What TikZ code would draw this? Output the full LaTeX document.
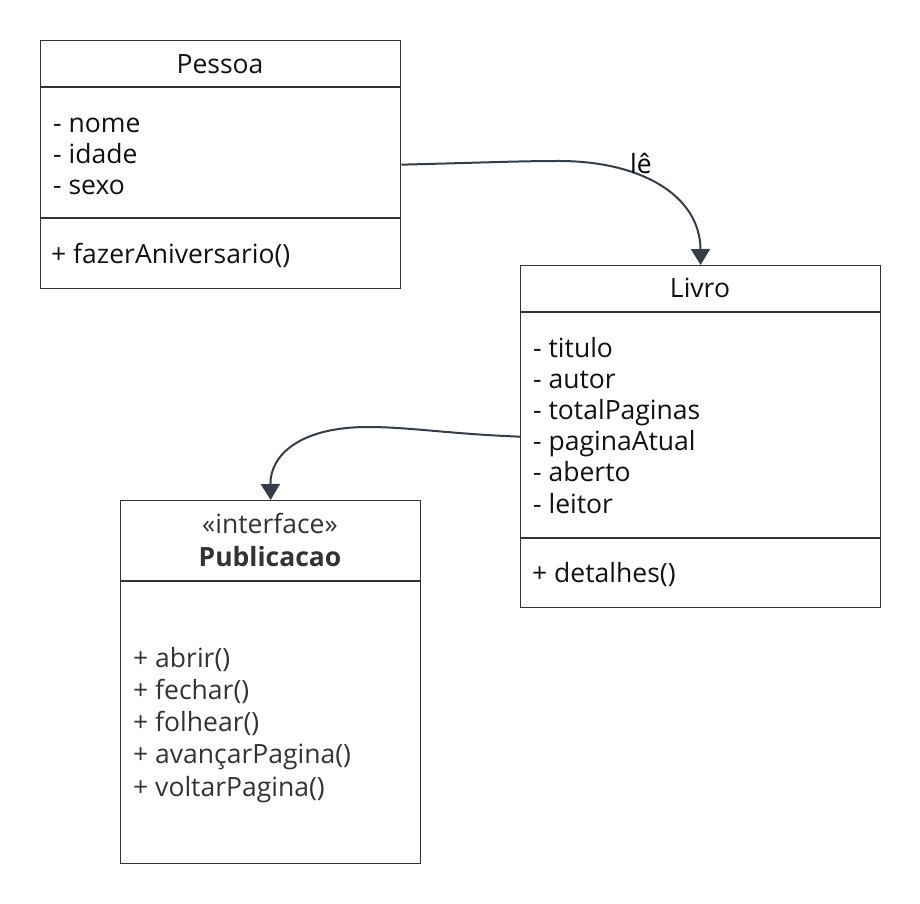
\documentclass[tikz,border=0pt]{standalone}
\usepackage{fontspec}
\setmainfont{Open Sans}
\usetikzlibrary{arrows.meta}
\definecolor{ink}{HTML}{333333}
\definecolor{txtcol}{HTML}{111111}
\definecolor{edgecol}{HTML}{373D47}
\begin{document}
\begin{tikzpicture}[x=1pt,y=-1pt,
  classbox/.style={draw=ink,line width=1.3pt,fill=white,inner sep=0pt,anchor=north west},
  divider/.style={draw=ink,line width=1.3pt},
  txt/.style={inner sep=0pt,text=txtcol,font=\fontsize{26.5}{30}\selectfont,anchor=base west},
  ttl/.style={inner sep=0pt,text=txtcol,font=\fontsize{26.5}{30}\selectfont,anchor=base},
  rel/.style={draw=edgecol,line width=2pt,-{Triangle[length=16pt,width=19pt]}}]
\useasboundingbox (0,0) rectangle (920,903);
% Pessoa
\node[classbox,minimum width=360pt,minimum height=248pt] (pessoa) at (40,40) {};
\draw[divider] (40,87) -- (400,87);
\draw[divider] (40,218) -- (400,218);
\node[ttl] (pessoaT) at (220,73) {Pessoa};
\node[txt] (pa1) at (53,132) {- nome};
\node[txt] (pa2) at (53,163) {- idade};
\node[txt] (pa3) at (53,194) {- sexo};
\node[txt] (pm1) at (51,263) {+ fazerAniversario()};
% Livro
\node[classbox,minimum width=360pt,minimum height=342pt] (livro) at (520,265) {};
\draw[divider] (520,312) -- (880,312);
\draw[divider] (520,538) -- (880,538);
\node[ttl] (livroT) at (700,297) {Livro};
\node[txt] (la1) at (533,357) {- titulo};
\node[txt] (la2) at (533,388) {- autor};
\node[txt] (la3) at (533,419) {- totalPaginas};
\node[txt] (la4) at (533,450) {- paginaAtual};
\node[txt] (la5) at (533,481) {- aberto};
\node[txt] (la6) at (533,513) {- leitor};
\node[txt] (lm1) at (532,582) {+ detalhes()};
% Publicacao
\node[classbox,minimum width=300pt,minimum height=363pt] (pub) at (120,500) {};
\draw[divider] (120,581) -- (420,581);
\node[ttl,text=ink] (pubS) at (270,533) {«interface»};
\node[ttl,text=ink,font=\fontsize{26.5}{30}\selectfont\bfseries] (pubT) at (270,566) {Publicacao};
\node[txt,text=ink] (pm1a) at (133,667) {+ abrir()};
\node[txt,text=ink] (pm2a) at (133,699) {+ fechar()};
\node[txt,text=ink] (pm3a) at (133,731) {+ folhear()};
\node[txt,text=ink] (pm4a) at (133,763) {+ avançarPagina()};
\node[txt,text=ink] (pm5a) at (133,796) {+ voltarPagina()};
% relations
\draw[rel] (pessoa.east) .. controls (470,163) and (520,161) .. (555,161)
  .. controls (640,160) and (700,195) .. (livro.north);
\node[inner sep=0pt,text=black,font=\fontsize{26.5}{30}\selectfont,anchor=base west] (lbl) at (630,173) {lê};
\draw[rel] (livro.west) .. controls (450,434) and (410,427) .. (368,427)
  .. controls (300,427) and (270,455) .. (pub.north);
\end{tikzpicture}
\end{document}
